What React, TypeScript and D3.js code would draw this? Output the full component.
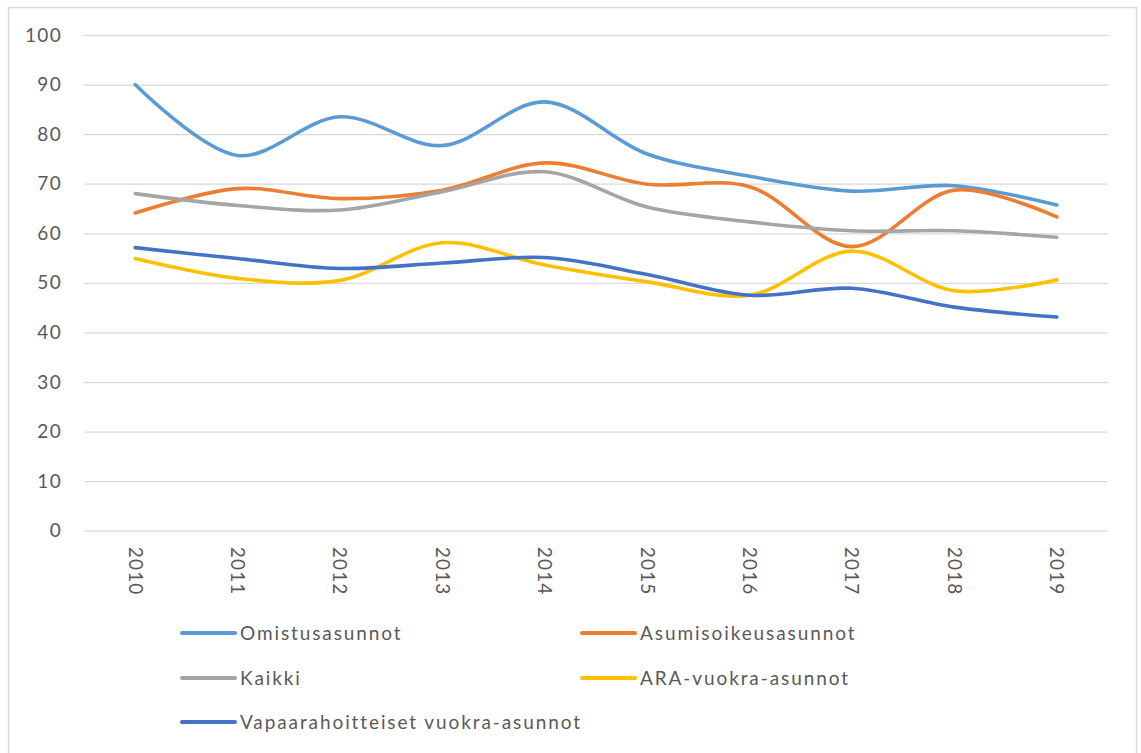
import { useEffect, useRef } from 'react';
import * as d3 from 'd3';

const years = ['2010', '2011', '2012', '2013', '2014', '2015', '2016', '2017', '2018', '2019'];
const yTicks = [0, 10, 20, 30, 40, 50, 60, 70, 80, 90, 100];

const omistus = [90.0, 75.7, 83.5, 77.7, 86.5, 76.0, 71.5, 68.5, 69.6, 65.7];
const asumisoikeus = [64.1, 69.0, 67.0, 68.7, 74.2, 69.9, 69.4, 57.3, 68.7, 63.3];
const kaikki = [68.0, 65.6, 64.7, 68.4, 72.4, 65.3, 62.3, 60.5, 60.5, 59.2];
const ara = [54.9, 50.9, 50.5, 58.1, 53.6, 50.2, 47.5, 56.4, 48.4, 50.6];
const vapaa = [57.1, 54.9, 52.9, 54.0, 55.1, 51.7, 47.5, 48.9, 45.1, 43.1];

const series = [
  { name: 'Omistusasunnot', values: omistus, color: '#5B9BD5' },
  { name: 'Asumisoikeusasunnot', values: asumisoikeus, color: '#ED7D31' },
  { name: 'Kaikki', values: kaikki, color: '#A5A5A5' },
  { name: 'ARA-vuokra-asunnot', values: ara, color: '#FFC000' },
  { name: 'Vapaarahoitteiset vuokra-asunnot', values: vapaa, color: '#4472C4' }
];

const FONT = 'Lato, "Open Sans", sans-serif';

export default function App() {
  const svgRef = useRef<SVGSVGElement>(null);

  useEffect(() => {
    if (!svgRef.current) return;
    const width = 1141;
    const height = 753;
    const svg = d3.select(svgRef.current);
    svg.selectAll('*').remove();
    svg.attr('width', width).attr('height', height);

    // chart frame
    svg.append('rect')
      .attr('x', 8.5)
      .attr('y', 7.5)
      .attr('width', 1128)
      .attr('height', 760)
      .attr('fill', '#fff')
      .attr('stroke', '#D9D9D9')
      .attr('stroke-width', 1.5);

    const margin = { top: 35, left: 84, right: 33 };
    const innerWidth = width - margin.left - margin.right;
    const innerHeight = 530.7 - margin.top;

    const g = svg.append('g').attr('transform', `translate(${margin.left},${margin.top})`);

    const x = d3.scaleBand().domain(years).range([0, innerWidth]);
    const y = d3.scaleLinear().domain([0, 100]).range([innerHeight, 0]);

    // grid
    g.append('g')
      .call(d3.axisLeft(y).tickValues(yTicks).tickSize(-innerWidth).tickFormat(() => ''))
      .call(sel => sel.select('.domain').remove())
      .selectAll('line')
      .attr('stroke', '#D9D9D9')
      .attr('stroke-width', 1.3);

    // y labels
    g.append('g')
      .attr('transform', 'translate(-22,0)')
      .call(d3.axisLeft(y).tickValues(yTicks).tickSize(0).tickPadding(0))
      .call(sel => sel.select('.domain').remove())
      .selectAll('text')
      .style('font-family', FONT)
      .style('font-size', '19px')
      .style('letter-spacing', '1.3px')
      .style('fill', '#595959');

    // x labels, rotated
    const xAxis = g.append('g')
      .attr('transform', `translate(0,${innerHeight})`)
      .call(d3.axisBottom(x).tickSize(0).tickPadding(0));
    xAxis.select('.domain').remove();
    xAxis.selectAll('text')
      .attr('transform', 'translate(0,16) rotate(90)')
      .attr('x', 0)
      .attr('y', 0)
      .attr('dy', '0.35em')
      .style('text-anchor', 'start')
      .style('font-family', FONT)
      .style('font-size', '19px')
      .style('letter-spacing', '1.2px')
      .style('fill', '#595959');

    const line = d3.line<number>()
      .x((_, i) => (x(years[i]) as number) + x.bandwidth() / 2)
      .y(d => y(d))
      .curve(d3.curveCatmullRom.alpha(0.5));

    series.forEach(s => {
      g.append('path')
        .datum(s.values)
        .attr('fill', 'none')
        .attr('stroke', s.color)
        .attr('stroke-width', 3.6)
        .attr('stroke-linecap', 'round')
        .attr('d', line);
    });

    // legend
    const legend = svg.append('g');
    const cols = [182, 582];
    const rows = [633, 678, 722];
    series.forEach((s, i) => {
      const lx = cols[i % 2];
      const ly = rows[Math.floor(i / 2)];
      legend.append('line')
        .attr('x1', lx)
        .attr('x2', lx + 53)
        .attr('y1', ly)
        .attr('y2', ly)
        .attr('stroke', s.color)
        .attr('stroke-width', 4)
        .attr('stroke-linecap', 'round');
      legend.append('text')
        .attr('x', lx + 58)
        .attr('y', ly)
        .attr('dy', '0.35em')
        .style('font-family', FONT)
        .style('font-size', '19px')
        .style('letter-spacing', '1.9px')
        .style('fill', '#595959')
        .text(s.name);
    });
  }, []);

  return (
    <div style={{ position: 'absolute', left: 0, top: 0 }}>
      <svg ref={svgRef} style={{ display: 'block' }}></svg>
    </div>
  );
}
